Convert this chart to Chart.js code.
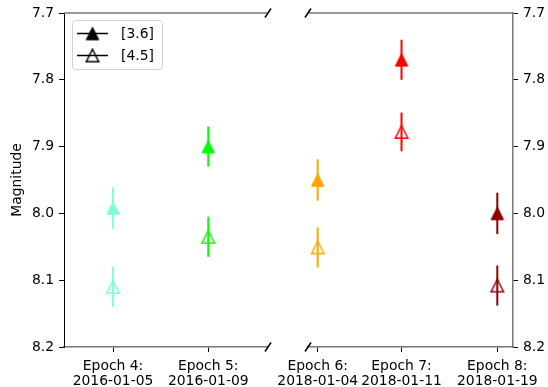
<!DOCTYPE html>
<html>
<head>
<meta charset="utf-8">
<script src="https://cdn.jsdelivr.net/npm/chart.js@4.4.0/dist/chart.umd.min.js"></script>
<style>
  html, body { margin: 0; padding: 0; background: #fff; }
  body { width: 548px; height: 387px; position: relative; overflow: hidden; }
  .panel { position: absolute; top: 0; }
  #leftWrap { left: 0; }
  #rightWrap { left: 260px; }
</style>
</head>
<body>
<div class="panel" id="leftWrap"><canvas id="leftChart" width="290" height="387"></canvas></div>
<div class="panel" id="rightWrap"><canvas id="rightChart" width="288" height="387"></canvas></div>
<script>
// Photometry per epoch
const epochs = ['Epoch 4:', 'Epoch 5:', 'Epoch 6:', 'Epoch 7:', 'Epoch 8:'];
const dates = ['2016-01-05', '2016-01-09', '2018-01-04', '2018-01-11', '2018-01-19'];
const mag36 = [7.992, 7.900, 7.950, 7.770, 8.000];
const err36 = [0.031, 0.030, 0.031, 0.030, 0.031];
const mag45 = [8.110, 8.035, 8.051, 7.878, 8.108];
const err45 = [0.030, 0.030, 0.030, 0.029, 0.030];
const epochColors = ['#7fffd4', '#00ff00', '#ffa500', '#ff0000', '#8b0000'];
const seriesNames = ['[3.6]', '[4.5]'];
const yTicks = [7.7, 7.8, 7.9, 8.0, 8.1, 8.2];

// which epochs go in which half of the broken axis
const leftIdx = [0, 1];
const rightIdx = [2, 3, 4];

const FONT = { family: "'DejaVu Sans', sans-serif", size: 13.9, lineHeight: '15px' };
const SPINE = '#777';

Chart.defaults.color = '#000';
Chart.defaults.font.family = FONT.family;

function dayOf(s) {
  return Date.parse(s + 'T00:00:00Z') / 86400000;
}

// matplotlib style '^' marker (width == height)
function markerImage(color, filled) {
  const c = document.createElement('canvas');
  c.width = 16; c.height = 16;
  const g = c.getContext('2d');
  g.beginPath();
  g.moveTo(8, 1.75);
  g.lineTo(14.25, 14.25);
  g.lineTo(1.75, 14.25);
  g.closePath();
  g.strokeStyle = color;
  g.lineWidth = filled ? 1 : 1.5;
  if (filled) {
    g.fillStyle = color;
    g.fill();
  }
  g.stroke();
  return c;
}

// vertical error bars, drawn under the markers
const errorBars = {
  id: 'errorBars',
  beforeDatasetsDraw(chart, args, opts) {
    const { ctx } = chart;
    const x = chart.scales.x, y = chart.scales.y;
    ctx.save();
    ctx.lineWidth = 2;
    opts.idx.forEach(i => {
      const px = x.getPixelForValue(dayOf(dates[i]));
      [[mag36, err36], [mag45, err45]].forEach(([m, e]) => {
        ctx.strokeStyle = epochColors[i];
        ctx.beginPath();
        ctx.moveTo(px, y.getPixelForValue(m[i] - e[i]));
        ctx.lineTo(px, y.getPixelForValue(m[i] + e[i]));
        ctx.stroke();
      });
    });
    ctx.restore();
  }
};

// top spine and the diagonal break marks
const frame = {
  id: 'frame',
  afterDraw(chart, args, opts) {
    const { ctx, chartArea: a } = chart;
    ctx.save();
    ctx.strokeStyle = SPINE;
    ctx.lineWidth = 1.5;
    ctx.beginPath();
    ctx.moveTo(a.left, a.top);
    ctx.lineTo(a.right, a.top);
    ctx.stroke();

    const bx = opts.breakSide === 'right' ? a.right : a.left;
    ctx.strokeStyle = '#000';
    ctx.lineWidth = 1.5;
    [a.top, a.bottom].forEach(by => {
      ctx.beginPath();
      ctx.moveTo(bx - 3, by + 4.5);
      ctx.lineTo(bx + 3, by - 4.5);
      ctx.stroke();
    });
    ctx.restore();
  }
};

// legend with line + marker, boxed like matplotlib
const legendBox = {
  id: 'legendBox',
  afterDraw(chart, args, opts) {
    if (!opts.show) return;
    const { ctx, chartArea: a } = chart;
    const bx = a.left + 8, by = a.top + 7, bw = 90, bh = 49;
    ctx.save();
    ctx.fillStyle = 'rgba(255,255,255,0.8)';
    ctx.strokeStyle = '#d0d0d0';
    ctx.lineWidth = 1;
    ctx.beginPath();
    ctx.roundRect(bx + 0.5, by + 0.5, bw, bh, 3);
    ctx.fill();
    ctx.stroke();

    ctx.font = `${FONT.size}px ${FONT.family}`;
    ctx.textBaseline = 'middle';
    ctx.fillStyle = '#000';
    seriesNames.forEach((name, k) => {
      const cy = by + 13.5 + k * 22;
      ctx.strokeStyle = '#000';
      ctx.lineWidth = 1.5;
      ctx.beginPath();
      ctx.moveTo(bx + 5, cy);
      ctx.lineTo(bx + 36, cy);
      ctx.stroke();
      ctx.drawImage(markerImage('#000', k === 0), bx + 20.5 - 8, cy - 8);
      ctx.fillText(name, bx + 49, cy + 1);
    });
    ctx.restore();
  }
};

function panelDatasets(idx) {
  return [
    {
      label: seriesNames[0],
      data: idx.map(i => ({ x: dayOf(dates[i]), y: mag36[i] })),
      pointStyle: idx.map(i => markerImage(epochColors[i], true))
    },
    {
      label: seriesNames[1],
      data: idx.map(i => ({ x: dayOf(dates[i]), y: mag45[i] })),
      pointStyle: idx.map(i => markerImage(epochColors[i], false))
    }
  ];
}

function makePanel(canvasId, idx, xlim, side) {
  const isLeft = side === 'left';
  return new Chart(document.getElementById(canvasId), {
    type: 'scatter',
    data: { datasets: panelDatasets(idx) },
    options: {
      responsive: false,
      animation: false,
      events: [],
      layout: {
        padding: isLeft ? { top: 13, right: 22, bottom: 0, left: 0 }
                        : { top: 13, right: 0, bottom: 0, left: 48 }
      },
      elements: { point: { radius: 8 } },
      plugins: {
        legend: { display: false },
        tooltip: { enabled: false },
        errorBars: { idx },
        frame: { breakSide: isLeft ? 'right' : 'left' },
        legendBox: { show: isLeft }
      },
      scales: {
        x: {
          type: 'linear',
          min: xlim[0],
          max: xlim[1],
          afterBuildTicks: s => { s.ticks = idx.map(i => ({ value: dayOf(dates[i]) })); },
          afterFit: s => { s.height = 40; },
          grid: { drawOnChartArea: false, drawTicks: true, tickLength: 5, color: '#000' },
          border: { display: true, color: SPINE, width: 1.5 },
          ticks: {
            autoSkip: false,
            maxRotation: 0,
            minRotation: 0,
            padding: 6.5,
            color: '#000',
            font: FONT,
            callback: (v, k) => [epochs[idx[k]], dates[idx[k]]]
          }
        },
        y: {
          position: side,
          reverse: true,
          min: yTicks[0],
          max: yTicks[yTicks.length - 1],
          afterBuildTicks: s => { s.ticks = yTicks.map(v => ({ value: v })); },
          afterFit: s => { s.width = isLeft ? 64 : 35; },
          grid: { drawOnChartArea: false, drawTicks: true, tickLength: 5, color: '#000' },
          border: { display: true, color: isLeft ? '#000' : SPINE, width: isLeft ? 1 : 1.5 },
          title: {
            display: isLeft,
            text: 'Magnitude',
            color: '#000',
            font: FONT,
            padding: { top: 10, bottom: 0 }
          },
          ticks: {
            padding: 5,
            color: '#000',
            font: FONT,
            callback: v => v.toFixed(1)
          }
        }
      }
    },
    plugins: [errorBars, frame, legendBox]
  });
}

makePanel('leftChart', leftIdx,
  [dayOf(dates[0]) - 2.06, dayOf(dates[1]) + 2.51], 'left');
makePanel('rightChart', rightIdx,
  [dayOf(dates[2]) - 0.81, dayOf(dates[4]) + 1.31], 'right');
</script>
</body>
</html>
